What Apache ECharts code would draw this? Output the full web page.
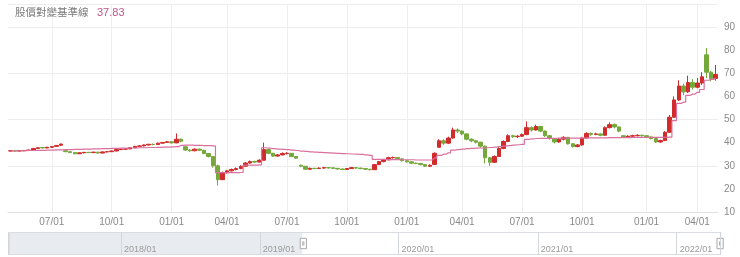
<!DOCTYPE html>
<html>
<head>
<meta charset="utf-8">
<script src="https://cdn.jsdelivr.net/npm/echarts@6/dist/echarts.min.js"></script>
<style>
html,body{margin:0;padding:0;background:#fff;}
#c{width:740px;height:257px;}
</style>
</head>
<body>
<div id="c"></div>
<script>
// Weekly categories (Mondays; Lunar New Year closed weeks omitted)
const weeks = [
'2019-04-29','2019-05-06','2019-05-13','2019-05-20','2019-05-27','2019-06-03','2019-06-10','2019-06-17','2019-06-24','2019-07-01',
'2019-07-08','2019-07-15','2019-07-22','2019-07-29','2019-08-05','2019-08-12','2019-08-19','2019-08-26','2019-09-02','2019-09-09',
'2019-09-16','2019-09-23','2019-09-30','2019-10-07','2019-10-14','2019-10-21','2019-10-28','2019-11-04','2019-11-11','2019-11-18',
'2019-11-25','2019-12-02','2019-12-09','2019-12-16','2019-12-23','2019-12-30','2020-01-06','2020-01-13','2020-01-20','2020-02-03',
'2020-02-10','2020-02-17','2020-02-24','2020-03-02','2020-03-09','2020-03-16','2020-03-23','2020-03-30','2020-04-06','2020-04-13',
'2020-04-20','2020-04-27','2020-05-04','2020-05-11','2020-05-18','2020-05-25','2020-06-01','2020-06-08','2020-06-15','2020-06-22',
'2020-06-29','2020-07-06','2020-07-13','2020-07-20','2020-07-27','2020-08-03','2020-08-10','2020-08-17','2020-08-24','2020-08-31',
'2020-09-07','2020-09-14','2020-09-21','2020-09-28','2020-10-05','2020-10-12','2020-10-19','2020-10-26','2020-11-02','2020-11-09',
'2020-11-16','2020-11-23','2020-11-30','2020-12-07','2020-12-14','2020-12-21','2020-12-28','2021-01-04','2021-01-11','2021-01-18',
'2021-01-25','2021-02-01','2021-02-15','2021-02-22','2021-03-01','2021-03-08','2021-03-15','2021-03-22','2021-03-29','2021-04-05',
'2021-04-12','2021-04-19','2021-04-26','2021-05-03','2021-05-10','2021-05-17','2021-05-24','2021-05-31','2021-06-07','2021-06-14',
'2021-06-21','2021-06-28','2021-07-05','2021-07-12','2021-07-19','2021-07-26','2021-08-02','2021-08-09','2021-08-16','2021-08-23',
'2021-08-30','2021-09-06','2021-09-13','2021-09-20','2021-09-27','2021-10-04','2021-10-11','2021-10-18','2021-10-25','2021-11-01',
'2021-11-08','2021-11-15','2021-11-22','2021-11-29','2021-12-06','2021-12-13','2021-12-20','2021-12-27','2022-01-03','2022-01-10',
'2022-01-17','2022-01-24','2022-02-07','2022-02-14','2022-02-21','2022-02-28','2022-03-07','2022-03-14','2022-03-21','2022-03-28',
'2022-04-04','2022-04-11','2022-04-18','2022-04-25'
];

// [open, close, low, high]
const ohlc = [
[36.4,36.5,36.2,36.7],[36.5,36.4,36.2,36.7],[36.4,36.5,36.3,36.7],[36.5,36.6,36.3,36.8],[36.6,36.8,36.5,37.0],
[36.8,37.5,36.7,37.7],[37.5,37.8,37.3,38.0],[37.9,37.7,37.5,38.1],[37.7,38.0,37.6,38.2],[38.0,38.3,37.8,38.5],
[38.4,38.8,38.2,39.0],[38.9,39.4,38.7,39.6],[36.5,36.1,35.9,36.7],[36.1,35.7,35.5,36.2],[35.7,35.2,35.0,35.8],
[35.2,35.6,35.1,35.8],[35.6,35.8,35.4,36.0],[35.8,35.7,35.5,36.0],[35.7,35.9,35.5,36.1],[35.9,35.5,35.3,36.0],
[35.5,36.0,35.4,36.2],[36.0,36.1,35.8,36.3],[36.1,36.4,36.0,36.6],[36.4,37.0,36.3,37.2],[37.0,37.2,36.8,37.4],
[37.2,37.3,37.0,37.6],[37.3,37.8,37.2,38.0],[37.8,38.4,37.7,38.6],[38.4,38.6,38.2,38.9],[38.6,39.0,38.4,39.2],
[39.0,39.3,38.8,39.5],[39.3,39.2,38.9,39.6],[39.2,39.8,39.1,40.0],[39.8,40.1,39.6,40.3],[40.1,40.4,39.9,40.7],
[40.4,39.9,39.6,40.6],[39.9,41.5,39.8,44.0],[41.5,40.6,40.2,41.8],[38.2,36.8,36.5,38.4],[36.8,36.5,36.1,37.2],
[36.5,37.2,36.3,37.5],[37.2,36.7,36.4,37.4],[36.7,35.3,35.0,36.9],[35.3,34.0,33.6,35.5],[34.0,30.0,29.2,34.2],
[30.0,24.0,21.5,30.5],[24.0,27.0,23.8,27.5],[27.0,27.8,26.6,28.2],[27.8,28.4,27.5,28.8],[28.4,28.8,28.0,29.3],
[28.8,29.8,28.5,30.2],[29.8,31.2,29.6,31.6],[31.2,31.8,30.9,32.3],[31.8,31.6,31.2,32.2],[31.6,32.4,31.4,32.8],
[32.4,37.0,32.2,40.0],[37.0,35.4,35.0,37.4],[35.4,34.2,33.8,35.6],[34.2,34.7,34.0,35.1],[34.7,35.3,34.5,35.8],
[35.3,35.4,34.9,35.9],[35.4,34.0,33.7,35.5],[34.0,33.3,33.0,34.2],[30.2,29.8,29.4,30.5],[29.8,28.5,28.2,29.9],
[28.5,28.9,28.3,29.2],[28.9,28.8,28.5,29.1],[28.8,29.0,28.6,29.3],[29.0,29.2,28.8,29.5],[29.2,29.1,28.8,29.4],
[29.1,28.9,28.6,29.3],[28.9,28.6,28.3,29.0],[28.6,28.4,28.1,28.8],[28.4,28.8,28.2,29.0],[28.8,29.2,28.7,29.5],
[29.2,29.0,28.7,29.4],[29.0,28.8,28.5,29.2],[28.8,28.5,28.2,28.9],[28.5,28.3,28.0,28.7],[28.3,30.5,28.2,30.8],
[30.5,31.8,30.3,32.1],[31.8,32.6,31.5,33.0],[32.6,33.5,32.3,33.9],[33.5,33.6,33.1,34.0],[33.6,33.0,32.7,33.8],
[33.0,32.2,31.9,33.2],[32.2,31.7,31.4,32.4],[31.7,31.1,30.9,31.9],[31.1,31.0,30.7,31.4],[31.0,30.5,30.2,31.2],
[30.5,29.8,29.5,30.7],[29.8,30.2,29.6,30.6],[30.6,35.4,30.4,35.8],[38.0,40.8,37.8,41.5],[40.8,39.8,39.0,41.5],
[39.8,42.0,39.5,42.6],[42.0,45.5,41.8,46.5],[45.5,45.0,44.2,46.2],[45.0,43.8,43.2,45.3],[43.8,41.5,41.0,44.0],
[41.5,40.8,40.2,41.9],[40.8,40.2,39.6,41.2],[40.2,38.5,37.8,40.4],[38.5,33.5,31.0,38.7],[33.5,31.5,30.0,33.8],
[31.5,34.0,31.2,34.5],[34.0,37.5,33.8,38.0],[37.5,40.5,37.2,41.0],[40.5,43.0,40.2,43.6],[43.0,42.6,42.0,43.4],
[42.6,42.8,42.0,43.3],[42.8,43.5,42.5,44.0],[43.5,46.5,43.2,49.2],[46.5,45.5,44.8,47.0],[45.5,47.0,45.2,47.8],
[47.0,45.0,44.5,47.3],[45.0,43.0,42.5,45.3],[43.0,41.8,41.3,43.3],[41.8,40.3,39.7,42.0],[40.3,41.5,40.0,42.0],
[41.5,42.3,41.0,42.8],[42.3,39.5,39.2,42.5],[39.5,38.3,37.9,39.8],[38.3,39.0,38.0,39.4],[39.0,42.0,38.8,42.5],
[42.0,44.0,41.8,44.5],[44.0,43.6,43.0,44.4],[43.6,43.8,43.2,44.3],[43.8,43.2,42.8,44.0],[43.2,46.5,43.0,47.0],
[46.5,47.8,46.2,48.8],[47.8,46.8,46.2,48.3],[46.8,45.0,44.5,47.0],[43.0,42.5,42.1,43.2],[42.5,42.8,42.2,43.2],
[42.8,43.0,42.5,43.4],[43.0,43.2,42.7,43.6],[43.2,43.0,42.6,43.5],[43.0,42.5,42.1,43.3],[42.5,41.8,41.4,42.7],
[41.8,40.3,39.9,42.0],[40.3,40.9,40.0,41.3],[40.9,44.5,40.7,45.0],[44.5,51.0,44.3,52.0],[51.0,58.5,50.8,60.0],
[58.5,64.5,58.0,67.0],[64.5,62.0,60.5,65.5],[62.0,66.0,61.5,69.0],[66.0,64.0,63.0,67.5],[64.0,65.8,63.5,68.0],
[65.8,68.5,65.0,70.5],[78.0,70.5,68.0,81.0],[70.5,67.8,66.5,71.0],[67.8,69.5,66.8,73.6]
];

// 股價對變基準線 (step line), one value per week
const baseline = [
36.4,36.4,36.5,36.5,36.6,36.6,36.7,36.7,36.8,36.8,
36.9,36.9,37.0,37.0,37.1,37.1,37.2,37.2,37.3,37.3,
37.4,37.4,37.5,37.5,37.6,37.6,37.7,37.7,37.8,37.8,
37.9,37.9,38.0,38.1,38.1,38.2,38.3,38.8,38.9,38.9,
38.8,38.8,38.7,38.7,38.6,27.0,27.0,27.0,27.0,27.0,
27.1,30.3,30.3,30.3,30.4,37.8,37.6,37.4,37.2,37.1,
37.0,36.8,36.6,36.3,36.2,36.0,35.9,35.8,35.7,35.6,
35.5,35.4,35.3,35.2,35.1,35.0,34.9,34.7,34.5,32.8,
32.8,32.8,32.7,32.7,32.7,32.6,32.6,32.6,32.5,32.5,
32.5,32.5,33.3,34.5,35.0,35.6,36.8,37.0,37.2,37.4,
37.5,37.6,37.7,37.8,37.9,38.1,38.3,38.5,38.7,38.9,
39.1,39.3,41.4,41.6,41.8,41.9,41.9,41.9,41.9,42.0,
42.0,42.0,42.0,42.0,42.0,42.1,42.1,42.1,42.1,42.1,
42.2,42.2,42.2,42.2,42.2,42.3,42.3,42.3,42.3,42.3,
42.3,42.3,42.3,42.4,49.5,57.0,57.5,60.5,61.0,61.8,
63.0,67.0,67.4,67.8
];

// Quarter tick labels on the main axis
const tickWeeks = ['2019-07-01','2019-09-30','2019-12-30','2020-03-30','2020-06-29','2020-09-28',
                   '2020-12-28','2021-03-29','2021-06-28','2021-09-27','2022-01-03','2022-03-28'];
const tickLabels = ['07/01','10/01','01/01','04/01','07/01','10/01','01/01','04/01','07/01','10/01','01/01','04/01'];

// Overview slider range and current window
const sliderStart = '2017-03-10';
const sliderEnd = '2022-04-25';
const windowStart = '2019-04-20';

const headerTitle = '股價對變基準線';
const headerValue = '37.83';

const FONT = 'Arial, "Liberation Sans", "Noto Sans CJK TC", sans-serif';
const chart = echarts.init(document.getElementById('c'), null, {renderer: 'canvas'});

const isTick = (i, v) => tickWeeks.indexOf(v) >= 0;

chart.setOption({
  animation: false,
  textStyle: {fontFamily: FONT},
  title: [
    {text: headerTitle, left: 15, top: 7, padding: 0,
     textStyle: {fontSize: 10.5, color: '#7a7a7a', fontWeight: 'normal', fontFamily: '"Noto Sans CJK TC", sans-serif'}},
    {text: headerValue, left: 97, top: 7, padding: 0,
     textStyle: {fontSize: 11, color: '#c0558b', fontWeight: 'normal', fontFamily: FONT}}
  ],
  grid: [
    {left: 8, right: 22, top: 4, bottom: 45},
    {left: 8, right: 20, top: 232, height: 23}
  ],
  xAxis: [
    {type: 'category', gridIndex: 0, data: weeks, boundaryGap: true,
     axisLine: {lineStyle: {color: '#e2e2e2'}},
     axisTick: {show: false},
     axisLabel: {interval: isTick, formatter: v => tickLabels[tickWeeks.indexOf(v)] || '',
                 color: '#8a8a8a', fontSize: 10, margin: 5, fontFamily: FONT},
     splitLine: {show: true, interval: isTick, alignWithLabel: true, lineStyle: {color: '#efefef'}}},
    {type: 'time', gridIndex: 1, min: sliderStart, max: sliderEnd, z: 10,
     minInterval: 365 * 86400000,
     axisLine: {show: false}, axisTick: {show: false},
     splitLine: {show: true, lineStyle: {color: '#d3d7db'}},
     axisLabel: {inside: true, align: 'left', verticalAlign: 'bottom', margin: 1, padding: [0, 0, 0, 3],
                 color: '#9a9a9a', fontSize: 9, formatter: '{yyyy}/{MM}',
                 showMinLabel: false, showMaxLabel: false, fontFamily: FONT}},
    {type: 'time', gridIndex: 1, min: sliderStart, max: sliderEnd, show: false}
  ],
  yAxis: [
    {type: 'value', gridIndex: 0, position: 'right', min: 10, max: 100, interval: 10,
     axisLine: {show: false}, axisTick: {show: false}, splitLine: {show: false},
     axisLabel: {color: '#8a8a8a', fontSize: 10, margin: 6, showMaxLabel: false, fontFamily: FONT}},
    {type: 'value', gridIndex: 0, position: 'right', min: 10, max: 100, interval: 20,
     axisLine: {show: false}, axisTick: {show: false}, axisLabel: {show: false},
     splitLine: {show: true, lineStyle: {color: '#ededed'}}},
    {type: 'value', gridIndex: 1, min: 0, max: 1, show: false}
  ],
  dataZoom: [{
    type: 'slider', xAxisIndex: 2, filterMode: 'none',
    startValue: windowStart, endValue: sliderEnd,
    left: 8, right: 20, top: 232, height: 23,
    backgroundColor: '#e8ecf0', fillerColor: '#ffffff', borderColor: '#d9dde1',
    showDetail: false, showDataShadow: false, brushSelect: false, moveHandleSize: 0,
    handleIcon: 'path://M0,0h6v10h-6zM2.5,3v4M3.5,3v4',
    handleSize: '45%',
    handleStyle: {color: '#fff', borderColor: '#a9a9a9', borderWidth: 1},
    emphasis: {handleStyle: {color: '#fff', borderColor: '#a9a9a9'}}
  }],
  series: [
    {type: 'candlestick', xAxisIndex: 0, yAxisIndex: 0, data: ohlc, barWidth: 4,
     itemStyle: {color: '#d12b2b', color0: '#74a83a', borderColor: '#d12b2b', borderColor0: '#74a83a', borderWidth: 1}},
    {type: 'line', xAxisIndex: 0, yAxisIndex: 0, data: baseline, step: 'middle', symbol: 'none',
     lineStyle: {color: '#d9719f', width: 1.2}, z: 3},
    {type: 'line', xAxisIndex: 2, yAxisIndex: 2, data: [[sliderStart, 0], [sliderEnd, 0]],
     symbol: 'none', silent: true, lineStyle: {opacity: 0}}
  ]
});
</script>
</body>
</html>
